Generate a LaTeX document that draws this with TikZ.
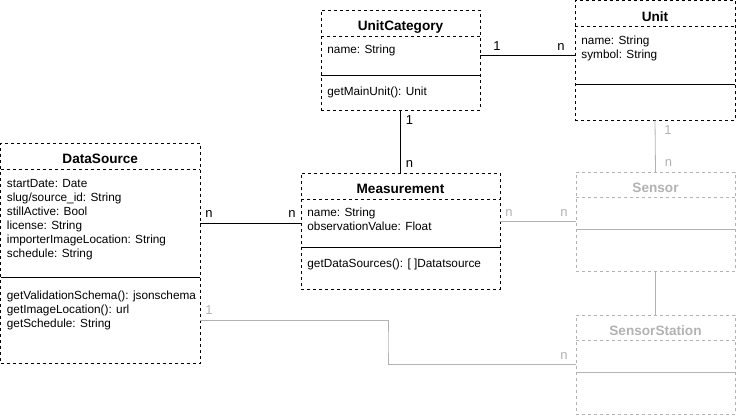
\documentclass[tikz,border=0pt]{standalone}
\usepackage{fontspec}
\setmainfont{Liberation Sans}
\usetikzlibrary{positioning,calc}
\definecolor{faded}{RGB}{178,178,178}
\tikzset{
    classbox/.style={draw, dashed, inner sep=0, outer sep=0},
    classhead/.style={inner sep=0, outer sep=0, minimum height=26, text height=15.5pt, text depth=0pt,
      font=\bfseries\fontsize{13.6}{15}\selectfont},
    compartment/.style={inner sep=0, outer sep=0},
    members/.style={inner sep=0, align=left, font=\fontsize{11.8}{14}\selectfont},
    mult/.style={inner sep=5pt, font=\fontsize{13}{15}\selectfont},
  }
\begin{document}
\begin{tikzpicture}[x=1pt, y=1pt, line width=0.8pt]
  \useasboundingbox (0,0) rectangle (736,-415);
  %classe UnitCategory
  \node[classbox, minimum width=159, minimum height=100] (cat) at (400.5,-60) {};
  \node[classhead, minimum width=159, below=0pt of cat.north] (cat-head) {UnitCategory};
  \node[compartment, minimum width=159, minimum height=39, below=0pt of cat-head] (cat-attr) {};
  \draw[dashed] (cat-head.south west) -- (cat-head.south east);
  \draw (cat-attr.south west) -- (cat-attr.south east);
  \node[members, below right=9pt and 6pt of cat-attr.north west] (cat-attr-txt) {name: String};
  \node[members, below right=12pt and 6pt of cat-attr.south west] (cat-meth-txt) {getMainUnit(): Unit};
  %classe Unit
  \node[classbox, minimum width=160, minimum height=119.5] (unit) at (655,-60.25) {};
  \node[classhead, minimum width=160, below=0pt of unit.north] (unit-head) {Unit};
  \node[compartment, minimum width=160, minimum height=58, below=0pt of unit-head] (unit-attr) {};
  \draw[dashed] (unit-head.south west) -- (unit-head.south east);
  \draw (unit-attr.south west) -- (unit-attr.south east);
  \node[members, below right=9pt and 6pt of unit-attr.north west] (unit-attr-txt) {name: String\\symbol: String};
  %classe DataSource
  \node[classbox, minimum width=199.5, minimum height=220] (ds) at (100.25,-253) {};
  \node[classhead, minimum width=199.5, below=0pt of ds.north] (ds-head) {DataSource};
  \node[compartment, minimum width=199.5, minimum height=108, below=0pt of ds-head] (ds-attr) {};
  \draw[dashed] (ds-head.south west) -- (ds-head.south east);
  \draw (ds-attr.south west) -- (ds-attr.south east);
  \node[members, below right=10pt and 6pt of ds-attr.north west] (ds-attr-txt)
    {startDate: Date\\slug/source\_id: String\\stillActive: Bool\\license: String\\importerImageLocation: String\\schedule: String};
  \node[members, below right=14pt and 6pt of ds-attr.south west] (ds-meth-txt)
    {getValidationSchema(): jsonschema\\getImageLocation(): url\\getSchedule: String};
  \coordinate (ds-meth) at ($(ds.south east)!.5!(ds-attr.south east)$);
  %classe Measurement
  \node[classbox, minimum width=199, minimum height=116] (meas) at (400.5,-231) {};
  \node[classhead, minimum width=199, below=0pt of meas.north] (meas-head) {Measurement};
  \node[compartment, minimum width=199, minimum height=48, below=0pt of meas-head] (meas-attr) {};
  \draw[dashed] (meas-head.south west) -- (meas-head.south east);
  \draw (meas-attr.south west) -- (meas-attr.south east);
  \node[members, below right=9pt and 6pt of meas-attr.north west] (meas-attr-txt) {name: String\\observationValue: Float};
  \node[members, below right=12pt and 6pt of meas-attr.south west] (meas-meth-txt) {getDataSources(): [ ]Datatsource};
  %classes grisees
  \begin{scope}[faded]
    \node[classbox, minimum width=159, minimum height=99] (sensor) at (655.5,-221.5) {};
    \node[classhead, minimum width=159, minimum height=25, below=0pt of sensor.north] (sensor-head) {Sensor};
    \node[compartment, minimum width=159, minimum height=32, below=0pt of sensor-head] (sensor-attr) {};
    \draw[dashed] (sensor-head.south west) -- (sensor-head.south east);
    \draw (sensor-attr.south west) -- (sensor-attr.south east);
    \node[classbox, minimum width=159, minimum height=99] (station) at (655.5,-364.5) {};
    \node[classhead, minimum width=159, minimum height=25, below=0pt of station.north] (station-head) {SensorStation};
    \node[compartment, minimum width=159, minimum height=32, below=0pt of station-head] (station-attr) {};
    \draw[dashed] (station-head.south west) -- (station-head.south east);
    \draw (station-attr.south west) -- (station-attr.south east);
  \end{scope}
  %associations
  \draw (cat-attr.east) -- node[mult, pos=0, above right, xshift=8pt] (cat-unit-1) {1}
    node[mult, pos=1, above left, xshift=-5pt] (cat-unit-n) {n} (cat-attr.east -| unit.west);
  \draw (cat.south) -- node[mult, pos=0, below right] (cat-meas-1) {1}
    node[mult, pos=1, above right] (cat-meas-n) {n} (meas.north);
  \draw (ds-attr.east) -- node[mult, pos=0, above right] (ds-meas-n1) {n}
    node[mult, pos=1, above left] (ds-meas-n2) {n} (meas-attr.west);
  \draw[faded] (unit.south) -- node[mult, pos=0, below right, xshift=4pt] (unit-sensor-1) {1}
    node[mult, pos=1, above right, xshift=4pt] (unit-sensor-n) {n} (sensor.north);
  \draw[faded] (meas.east |- sensor.west) -- node[mult, pos=0, above right] (meas-sensor-n1) {n}
    node[mult, pos=1, above left, xshift=-3pt] (meas-sensor-n2) {n} (sensor.west);
  \draw[faded] (sensor.south) -- (station.north);
  \draw[faded] (ds-meth) -| ($(ds-meth)!.5!(station.west)$) node[mult, pos=0, above right] (ds-station-1) {1}
    |- (station.west) node[mult, pos=1, above left, xshift=-3pt] (ds-station-n) {n};
\end{tikzpicture}
\end{document}
